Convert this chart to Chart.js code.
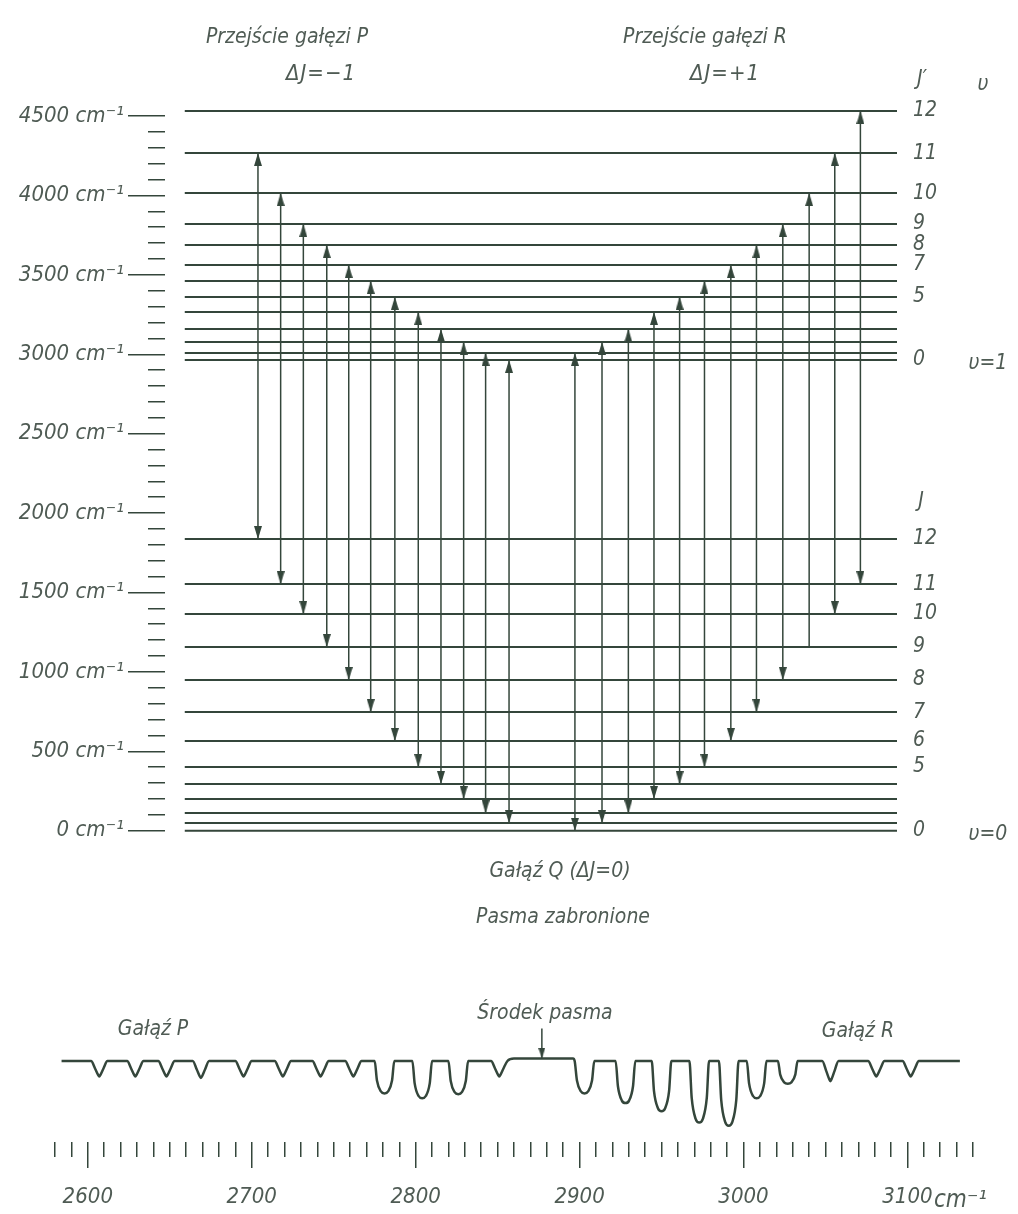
<!DOCTYPE html>
<html><head><meta charset="utf-8">
<script src="https://cdn.jsdelivr.net/npm/chart.js@4/dist/chart.umd.min.js"></script>
<style>
html,body{margin:0;padding:0;background:#fff;}
#wrap{position:relative;width:1018px;height:1214px;overflow:hidden;background:#fff;}
#top{position:absolute;left:0;top:0;}
#bot{position:absolute;left:0;top:1000px;}
.t{position:absolute;font-family:'DejaVu Sans Condensed','DejaVu Sans',sans-serif;font-style:italic;color:#4f5b54;font-size:21px;white-space:nowrap;transform:translate(-50%,-50%);line-height:1;}
.l{transform:translate(0,-50%);}
</style></head><body>
<div id="wrap">
<canvas id="top" width="1018" height="877"></canvas>
<canvas id="bot" width="1018" height="214"></canvas>
<div class="t" style="left:287px;top:36px">Przejście gałęzi P</div>
<div class="t" style="left:705px;top:36px">Przejście gałęzi R</div>
<div class="t" style="left:321px;top:73px;font-size:22px;letter-spacing:1px">ΔJ=−1</div>
<div class="t" style="left:725px;top:73px;font-size:22px;letter-spacing:1px">ΔJ=+1</div>
<div class="t" style="left:922px;top:78px">J′</div>
<div class="t" style="left:983px;top:83px">υ</div>
<div class="t" style="left:988px;top:362px">υ=1</div>
<div class="t" style="left:921px;top:500px">J</div>
<div class="t" style="left:988px;top:833px">υ=0</div>
<div class="t" style="left:560px;top:870px">Gałąź Q (ΔJ=0)</div>
<div class="t" style="left:563px;top:916px">Pasma zabronione</div>
<div class="t" style="left:153px;top:1028px">Gałąź P</div>
<div class="t" style="left:545px;top:1012px">Środek pasma</div>
<div class="t" style="left:858px;top:1030px">Gałąź R</div>
<div class="t l" style="left:934px;top:1199px;font-size:24px">cm⁻¹</div>
</div>
<script>
// ---------- DATA: energy-level diagram ----------
// Rotational levels J' of the v=1 state (cm^-1), J'=0..12
const upperLevelEnergy = [2964, 3008, 3077, 3159, 3266, 3361, 3461, 3562, 3688, 3820, 4015, 4267, 4532];
// Rotational levels J of the v=0 state (cm^-1), J=0..12
const lowerLevelEnergy = [0, 48, 111, 200, 294, 401, 565, 747, 949, 1157, 1365, 1553, 1837];
const upperLevelLabels = ['0', '', '', '', '', '5', '', '7', '8', '9', '10', '11', '12'];
const lowerLevelLabels = ['0', '', '', '', '', '5', '6', '7', '8', '9', '10', '11', '12'];
const energyTicks = [0, 500, 1000, 1500, 2000, 2500, 3000, 3500, 4000, 4500];
const energyTickLabels = ['0 cm⁻¹', '500 cm⁻¹', '1000 cm⁻¹', '1500 cm⁻¹', '2000 cm⁻¹', '2500 cm⁻¹', '3000 cm⁻¹', '3500 cm⁻¹', '4000 cm⁻¹', '4500 cm⁻¹'];
const energyMinorStep = 100;
// horizontal placement (0..100 across the diagram)
const levelSpan = [2.7, 100];
// P branch: J -> J'=J-1
const pBranchLowerJ = [12, 11, 10, 9, 8, 7, 6, 5, 4, 3, 2, 1];
const pBranchX = [12.7, 15.8, 18.9, 22.1, 25.1, 28.1, 31.4, 34.6, 37.7, 40.8, 43.8, 47.0];
// R branch: J -> J'=J+1
const rBranchLowerJ = [0, 1, 2, 3, 4, 5, 6, 7, 8, 9, 10, 11];
const rBranchX = [56.0, 59.7, 63.3, 66.8, 70.3, 73.7, 77.3, 80.8, 84.4, 88.0, 91.5, 95.0];
const rBranchLowerHead = [1, 1, 1, 1, 1, 1, 1, 1, 1, 0, 1, 1];

// ---------- DATA: absorption spectrum ----------
const spectrumMajorTicks = [2600, 2700, 2800, 2900, 3000, 3100];
const spectrumMajorLabels = ['2600', '2700', '2800', '2900', '3000', '3100'];
const spectrumRange = [2580, 3140];
const spectrumMinorStep = 10;
const pDipWavenumber = [2607, 2629, 2648, 2669, 2695, 2719, 2742, 2762, 2781, 2804, 2826, 2851];
const pDipMinimum   = [81, 81, 81, 79, 81, 81, 81, 81, 60, 54, 59, 81];
const rDipWavenumber = [2903, 2928, 2950, 2973, 2991, 3008, 3027, 3053, 3081, 3102];
const rDipMinimum   = [60, 48, 38, 24, 20, 54, 72, 75, 81, 81];
const baselineLevel = 100;
const baselineExtraWavenumber = [2584, 2860, 2896, 3132];
const baselineExtraLevel = [100, 103, 103, 100];
const bandCentre = 2877;
const bandCentreArrow = [140, 103];
// dip profile shapes (offset in cm^-1, share of depth): narrow V for weak lines, U for strong lines
const vProfileOffset = [-5, -2.5, -0.8, 0, 0.8, 2.5, 5];
const vProfileShare  = [0, 0.5, 0.88, 1, 0.88, 0.5, 0];
const uProfileOffset = [-6, -4.6, -2.2, 0, 2.2, 4.6, 6];
const uProfileShare  = [0, 0.6, 0.94, 1, 0.94, 0.6, 0];
const strongLineLimit = 75;

// ---------- styling ----------
const LINE = '#34463b';
const TEXT = '#4f5b54';
const FONT = "'DejaVu Sans Condensed','DejaVu Sans',sans-serif";

function headImage(w, h, up) {
  const c = document.createElement('canvas');
  c.width = w; c.height = 2 * h;
  const g = c.getContext('2d');
  g.fillStyle = LINE;
  g.beginPath();
  if (up) { g.moveTo(w / 2, h); g.lineTo(w, 2 * h); g.lineTo(0, 2 * h); }
  else { g.moveTo(w / 2, h); g.lineTo(w, 0); g.lineTo(0, 0); }
  g.closePath(); g.fill();
  return c;
}
const upHead = headImage(8, 13, true);
const downHead = headImage(8, 13, false);
const smallDownHead = headImage(7, 11, false);

// ---------- build top chart data ----------
function levelSegments(energies) {
  const d = [];
  energies.forEach(E => d.push({x: levelSpan[0], y: E}, {x: levelSpan[1], y: E}, {x: levelSpan[1], y: null}));
  return d;
}
const transitions = [], upHeads = [], downHeads = [];
pBranchLowerJ.forEach((J, i) => {
  const x = pBranchX[i], lo = lowerLevelEnergy[J], hi = upperLevelEnergy[J - 1];
  transitions.push({x, y: lo}, {x, y: hi}, {x, y: null});
  upHeads.push({x, y: hi}); downHeads.push({x, y: lo});
});
rBranchLowerJ.forEach((J, i) => {
  const x = rBranchX[i], lo = lowerLevelEnergy[J], hi = upperLevelEnergy[J + 1];
  transitions.push({x, y: lo}, {x, y: hi}, {x, y: null});
  upHeads.push({x, y: hi});
  if (rBranchLowerHead[i]) downHeads.push({x, y: lo});
});
const rightTicks = [];
upperLevelEnergy.forEach((E, i) => { if (upperLevelLabels[i]) rightTicks.push({value: E, text: upperLevelLabels[i]}); });
lowerLevelEnergy.forEach((E, i) => { if (lowerLevelLabels[i]) rightTicks.push({value: E, text: lowerLevelLabels[i]}); });
rightTicks.sort((a, b) => a.value - b.value);

const yMin = -100, yMax = 4600;
const commonOff = {responsive: false, animation: false, events: [],
  plugins: {legend: {display: false}, tooltip: {enabled: false}}};

new Chart(document.getElementById('top'), {
  type: 'line',
  data: {datasets: [
    {data: levelSegments(upperLevelEnergy), borderColor: LINE, borderWidth: 2, pointRadius: 0, spanGaps: false},
    {data: levelSegments(lowerLevelEnergy), borderColor: LINE, borderWidth: 2, pointRadius: 0, spanGaps: false},
    {data: transitions, borderColor: LINE, borderWidth: 1.5, pointRadius: 0, spanGaps: false},
    {data: upHeads, showLine: false, pointStyle: upHead, pointRadius: 5},
    {data: downHeads, showLine: false, pointStyle: downHead, pointRadius: 5}
  ]},
  options: Object.assign({}, commonOff, {
    layout: {padding: {left: 0, right: 0, top: 100.17, bottom: 30.42}},
    scales: {
      x: {type: 'linear', min: 0, max: 100, display: false},
      y: {type: 'linear', position: 'left', weight: 0, min: yMin, max: yMax,
        afterBuildTicks: s => { const t = []; for (let v = energyTicks[0]; v <= energyTicks[energyTicks.length - 1]; v += energyMinorStep) t.push({value: v}); s.ticks = t; },
        afterFit: s => { s.width = 17; },
        ticks: {display: false},
        grid: {drawOnChartArea: false, drawTicks: true, tickLength: 17, color: LINE, lineWidth: 1.5},
        border: {display: false}},
      yMajor: {type: 'linear', position: 'left', weight: 1, min: yMin, max: yMax,
        afterBuildTicks: s => { s.ticks = energyTicks.map(v => ({value: v})); },
        afterFit: s => { s.width = 148; },
        ticks: {autoSkip: false, padding: 4, color: TEXT, font: {family: FONT, size: 22, style: 'italic'},
          callback: (v, i) => energyTickLabels[i]},
        grid: {drawOnChartArea: false, drawTicks: true, tickLength: 20, color: LINE, lineWidth: 1.5},
        border: {display: false}},
      yRight: {type: 'linear', position: 'right', min: yMin, max: yMax,
        afterBuildTicks: s => { s.ticks = rightTicks.map(t => ({value: t.value})); },
        afterFit: s => { s.width = 121; },
        ticks: {autoSkip: false, padding: 8, color: TEXT, font: {family: FONT, size: 21, style: 'italic'},
          callback: (v, i) => rightTicks[i].text},
        grid: {display: false}, border: {display: false}}
    }
  })
});

// ---------- build spectrum ----------
const dips = [];
pDipWavenumber.forEach((w, i) => dips.push([w, pDipMinimum[i]]));
rDipWavenumber.forEach((w, i) => dips.push([w, rDipMinimum[i]]));
const spectrum = [];
dips.forEach(([w, m]) => {
  const strong = m < strongLineLimit;
  const off = strong ? uProfileOffset : vProfileOffset;
  const share = strong ? uProfileShare : vProfileShare;
  off.forEach((o, k) => spectrum.push({x: w + o, y: baselineLevel - (baselineLevel - m) * share[k]}));
});
baselineExtraWavenumber.forEach((w, i) => spectrum.push({x: w, y: baselineExtraLevel[i]}));
spectrum.sort((a, b) => a.x - b.x);

new Chart(document.getElementById('bot'), {
  type: 'line',
  data: {datasets: [
    {data: spectrum, borderColor: LINE, borderWidth: 2.5, pointRadius: 0, cubicInterpolationMode: 'monotone'},
    {data: [{x: bandCentre, y: bandCentreArrow[0]}, {x: bandCentre, y: bandCentreArrow[1]}], borderColor: LINE, borderWidth: 1.5, pointRadius: 0},
    {data: [{x: bandCentre, y: bandCentreArrow[1]}], showLine: false, pointStyle: smallDownHead, pointRadius: 5}
  ]},
  options: Object.assign({}, commonOff, {
    layout: {padding: {left: 55, right: 45, top: 24.55, bottom: 0}},
    scales: {
      x: {type: 'linear', position: 'bottom', weight: 0, min: spectrumRange[0], max: spectrumRange[1],
        afterBuildTicks: s => { const t = []; for (let v = spectrumRange[0]; v <= spectrumRange[1]; v += spectrumMinorStep) t.push({value: v}); s.ticks = t; },
        afterFit: s => { s.height = 15; },
        ticks: {display: false},
        grid: {drawOnChartArea: false, drawTicks: true, tickLength: 15, color: LINE, lineWidth: 1.5},
        border: {display: false}},
      xMajor: {type: 'linear', position: 'bottom', weight: 1, min: spectrumRange[0], max: spectrumRange[1],
        afterBuildTicks: s => { s.ticks = spectrumMajorTicks.map(v => ({value: v})); },
        afterFit: s => { s.height = 57; },
        ticks: {autoSkip: false, maxRotation: 0, minRotation: 0, padding: 16, color: TEXT,
          font: {family: FONT, size: 22, style: 'italic'}, callback: (v, i) => spectrumMajorLabels[i]},
        grid: {drawOnChartArea: false, drawTicks: true, tickLength: 11, color: LINE, lineWidth: 1.5},
        border: {display: false}},
      y: {type: 'linear', min: 0, max: 145, display: false}
    }
  })
});
</script>
</body></html>
